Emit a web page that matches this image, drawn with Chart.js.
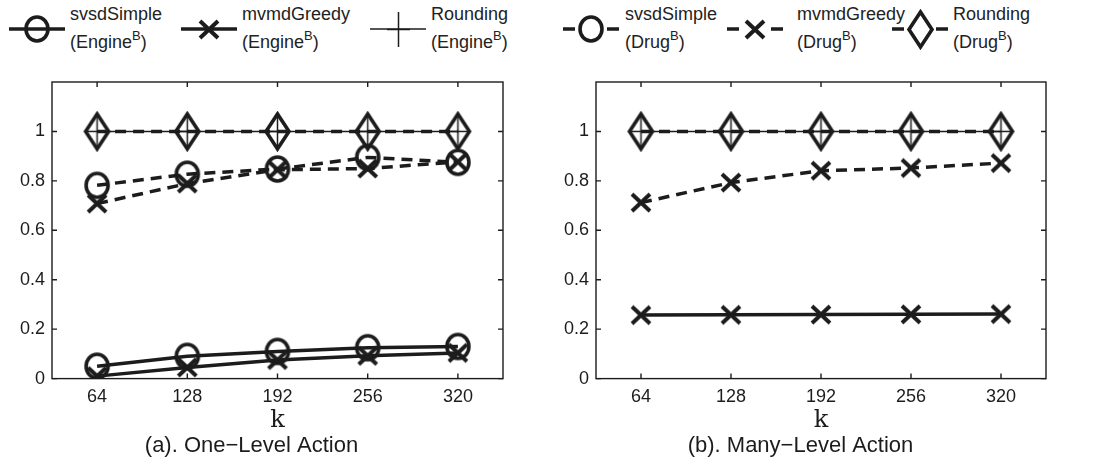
<!DOCTYPE html>
<html>
<head>
<meta charset="utf-8">
<script src="https://cdn.jsdelivr.net/npm/chart.js@4.4.1/dist/chart.umd.min.js"></script>
<style>
  body { margin: 0; width: 1110px; height: 465px; background: #fff; position: relative; overflow: hidden;
         font-family: "Liberation Sans", Arial, sans-serif; color: #222; }
  .sample { position: absolute; top: 7px; }
  .lbl { position: absolute; top: 0; font-size: 18px; line-height: 28px; white-space: nowrap; }
  .lbl sup { font-size: 13px; line-height: 0; vertical-align: 8px; }
  .plot { position: absolute; top: 60px; width: 555px; height: 405px; }
</style>
</head>
<body>
<div id="legend"></div>
<div class="plot" style="left:0"><canvas id="oneLevel" width="555" height="405"></canvas></div>
<div class="plot" style="left:555px"><canvas id="manyLevel" width="555" height="405"></canvas></div>
<script>
const kValues = [64, 128, 192, 256, 320];
const yTicks = [0, 0.2, 0.4, 0.6, 0.8, 1];

// (a) One-Level Action
const oneSvsdEngine = [0.05, 0.09, 0.11, 0.125, 0.13];
const oneMvmdEngine = [0.01, 0.045, 0.075, 0.092, 0.104];
const oneRoundEngine = [1, 1, 1, 1, 1];
const oneSvsdDrug = [0.782, 0.827, 0.848, 0.895, 0.875];
const oneMvmdDrug = [0.708, 0.789, 0.845, 0.85, 0.877];
const oneRoundDrug = [1, 1, 1, 1, 1];

// (b) Many-Level Action
const manyMvmdEngine = [0.257, 0.258, 0.259, 0.26, 0.261];
const manyRoundEngine = [1, 1, 1, 1, 1];
const manyMvmdDrug = [0.712, 0.793, 0.841, 0.852, 0.872];
const manyRoundDrug = [1, 1, 1, 1, 1];

const ink = '#1c1c1c';
const sans = '"Liberation Sans", Arial, sans-serif';

// marker glyphs, drawn once and used as point styles
function glyph(w, h, lw, draw) {
  const c = document.createElement('canvas');
  c.width = Math.ceil(w + lw + 2);
  c.height = Math.ceil(h + lw + 2);
  const g = c.getContext('2d');
  g.strokeStyle = ink;
  g.lineWidth = lw;
  g.translate(c.width / 2, c.height / 2);
  g.beginPath();
  draw(g, w / 2, h / 2);
  g.stroke();
  return c;
}
const marks = {
  circle: glyph(22, 24, 3.6, (g, a, b) => g.ellipse(0, 0, a, b, 0, 0, Math.PI * 2)),
  cross: glyph(18, 17, 4, (g, a, b) => { g.moveTo(-a, -b); g.lineTo(a, b); g.moveTo(a, -b); g.lineTo(-a, b); }),
  plus: glyph(23, 35, 1.5, (g, a, b) => { g.moveTo(-a, 0); g.lineTo(a, 0); g.moveTo(0, -b); g.lineTo(0, b); }),
  diamond: glyph(23, 35, 3.6, (g, a, b) => { g.moveTo(0, -b); g.lineTo(a, 0); g.lineTo(0, b); g.lineTo(-a, 0); g.closePath(); })
};

function series(data, mark, drug, thin, order) {
  return {
    data: kValues.map((k, i) => ({x: k, y: data[i]})),
    borderColor: ink,
    borderWidth: thin ? 1.5 : 3.5,
    borderDash: drug ? [11, 7] : [],
    pointStyle: marks[mark],
    pointRadius: 10,
    tension: 0,
    order: order
  };
}

// axes box with inward ticks on all four sides
const boxPlugin = {
  id: 'box',
  beforeDatasetsDraw(chart) {
    const {ctx, chartArea: a, scales: {x, y}} = chart;
    ctx.save();
    ctx.strokeStyle = ink;
    ctx.lineWidth = 1.4;
    ctx.strokeRect(a.left, a.top, a.width, a.height);
    ctx.beginPath();
    for (const t of x.ticks) {
      const px = x.getPixelForValue(t.value);
      ctx.moveTo(px, a.bottom); ctx.lineTo(px, a.bottom - 5);
      ctx.moveTo(px, a.top); ctx.lineTo(px, a.top + 5);
    }
    for (const t of y.ticks) {
      const py = y.getPixelForValue(t.value);
      ctx.moveTo(a.left, py); ctx.lineTo(a.left + 5, py);
      ctx.moveTo(a.right, py); ctx.lineTo(a.right - 5, py);
    }
    ctx.stroke();
    ctx.restore();
  }
};

function makeChart(id, datasets, caption, yWidth, padRight) {
  return new Chart(document.getElementById(id), {
    type: 'line',
    data: {datasets: datasets},
    plugins: [boxPlugin],
    options: {
      responsive: false,
      animation: false,
      layout: {padding: {top: 22, right: padRight, left: 0, bottom: 0}},
      scales: {
        x: {
          type: 'linear', min: 32, max: 352,
          afterBuildTicks: s => { s.ticks = kValues.map(v => ({value: v})); },
          afterFit: s => { s.height = 54; },
          grid: {display: false, drawTicks: false},
          border: {display: false},
          ticks: {color: ink, padding: 8, font: {family: sans, size: 18}, maxRotation: 0, autoSkip: false},
          title: {display: true, text: 'k', color: ink, padding: {top: 0, bottom: -3},
                  font: {family: '"DejaVu Serif", serif', size: 24}}
        },
        y: {
          min: 0, max: 1.2,
          afterBuildTicks: s => { s.ticks = yTicks.map(v => ({value: v})); },
          afterFit: s => { s.width = yWidth; },
          grid: {display: false, drawTicks: false},
          border: {display: false},
          ticks: {color: ink, padding: 7, font: {family: sans, size: 18},
                  callback: v => String(+v.toFixed(1))}
        }
      },
      plugins: {
        legend: {display: false},
        tooltip: {enabled: false},
        title: {display: true, position: 'bottom', text: caption, color: ink,
                font: {family: sans, size: 22, weight: 'normal'}, padding: {top: 0, bottom: 6}}
      }
    }
  });
}

makeChart('oneLevel', [
  series(oneSvsdEngine, 'circle', false, false, 6),
  series(oneMvmdEngine, 'cross', false, false, 5),
  series(oneRoundEngine, 'plus', false, true, 4),
  series(oneSvsdDrug, 'circle', true, false, 3),
  series(oneMvmdDrug, 'cross', true, false, 2),
  series(oneRoundDrug, 'diamond', true, false, 1)
], '(a). One\u2212Level Action', 52, 52);

makeChart('manyLevel', [
  series(manyMvmdEngine, 'cross', false, false, 5),
  series(manyRoundEngine, 'plus', false, true, 4),
  series(manyMvmdDrug, 'cross', true, false, 2),
  series(manyRoundDrug, 'diamond', true, false, 1)
], '(b). Many\u2212Level Action', 41, 64);

// shared legend across the top
const legendNames = ['svsdSimple', 'mvmdGreedy', 'Rounding'];
const legendSets = ['Engine', 'Drug'];
const legendMarks = ['circle', 'cross', 'plus', 'circle', 'cross', 'diamond'];
const legendSlots = [[9, 70], [181, 242], [370, 431], [563, 625], [727, 797], [892, 953]];

const legend = document.getElementById('legend');
legendSlots.forEach(([sx, tx], i) => {
  const drug = i >= 3;
  const mark = legendMarks[i];
  const c = document.createElement('canvas');
  c.width = 56; c.height = 44;
  c.className = 'sample';
  c.style.left = sx + 'px';
  const g = c.getContext('2d');
  g.strokeStyle = ink;
  g.lineWidth = mark === 'plus' ? 1.5 : 3.5;
  g.beginPath();
  if (drug) {
    g.moveTo(0, 22); g.lineTo(12, 22);
    g.moveTo(44, 22); g.lineTo(56, 22);
  } else {
    g.moveTo(0, 22); g.lineTo(56, 22);
  }
  g.stroke();
  const m = marks[mark];
  g.drawImage(m, Math.round(28 - m.width / 2), Math.round(22 - m.height / 2));
  legend.appendChild(c);

  const t = document.createElement('div');
  t.className = 'lbl';
  t.style.left = tx + 'px';
  t.innerHTML = legendNames[i % 3] + '<br>(' + legendSets[drug ? 1 : 0] + '<sup>B</sup>)';
  legend.appendChild(t);
});
</script>
</body>
</html>
